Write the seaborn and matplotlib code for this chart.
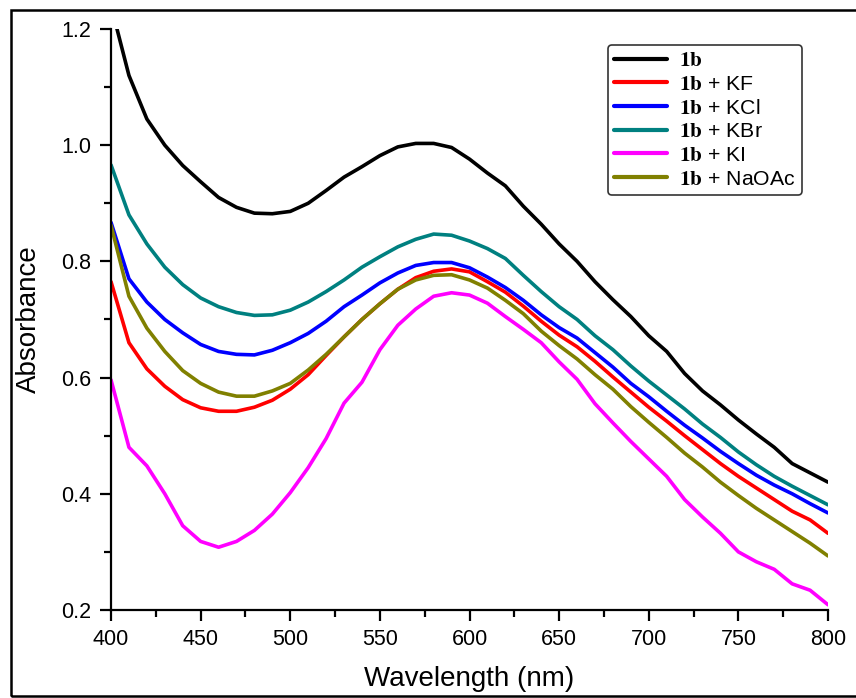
import numpy as np
import pandas as pd
import matplotlib
matplotlib.use("Agg")
import matplotlib.pyplot as plt
import matplotlib.patches as patches
from matplotlib.ticker import MultipleLocator
import seaborn as sns

# Wavelength grid (nm) and absorbance values
wavelength = list(range(400, 801, 10))

abs_1b = [1.24, 1.12, 1.045, 1.00, 0.965, 0.937, 0.91, 0.893, 0.883, 0.882,
          0.886, 0.900, 0.922, 0.945, 0.963, 0.982, 0.997, 1.003, 1.003, 0.996,
          0.976, 0.952, 0.93, 0.895, 0.864, 0.83, 0.800, 0.765, 0.734, 0.705,
          0.672, 0.645, 0.607, 0.577, 0.553, 0.527, 0.503, 0.480, 0.452, 0.436,
          0.420]
abs_kf = [0.765, 0.66, 0.615, 0.585, 0.562, 0.548, 0.542, 0.542, 0.549, 0.561,
          0.58, 0.605, 0.638, 0.67, 0.70, 0.727, 0.752, 0.772, 0.783, 0.787,
          0.782, 0.765, 0.747, 0.723, 0.697, 0.673, 0.653, 0.628, 0.601, 0.575,
          0.549, 0.525, 0.50, 0.476, 0.452, 0.43, 0.41, 0.39, 0.37, 0.355,
          0.332]
abs_kcl = [0.867, 0.77, 0.73, 0.70, 0.677, 0.657, 0.645, 0.64, 0.639, 0.647,
           0.66, 0.676, 0.697, 0.722, 0.742, 0.763, 0.78, 0.793, 0.798, 0.798,
           0.789, 0.773, 0.755, 0.733, 0.708, 0.686, 0.668, 0.643, 0.618, 0.59,
           0.567, 0.542, 0.518, 0.496, 0.473, 0.452, 0.432, 0.415, 0.40, 0.383,
           0.367]
abs_kbr = [0.966, 0.88, 0.83, 0.79, 0.76, 0.737, 0.722, 0.712, 0.707, 0.708,
           0.716, 0.73, 0.748, 0.768, 0.79, 0.808, 0.825, 0.838, 0.847, 0.845,
           0.835, 0.822, 0.805, 0.776, 0.748, 0.722, 0.70, 0.672, 0.648, 0.62,
           0.594, 0.57, 0.546, 0.52, 0.497, 0.472, 0.45, 0.43, 0.413, 0.397,
           0.381]
abs_ki = [0.596, 0.48, 0.448, 0.40, 0.345, 0.318, 0.308, 0.318, 0.337, 0.365,
          0.402, 0.445, 0.495, 0.556, 0.592, 0.648, 0.69, 0.718, 0.74, 0.746,
          0.742, 0.728, 0.705, 0.683, 0.66, 0.627, 0.597, 0.555, 0.522, 0.49,
          0.46, 0.43, 0.39, 0.36, 0.332, 0.30, 0.283, 0.27, 0.245, 0.234,
          0.209]
abs_naoac = [0.862, 0.74, 0.685, 0.645, 0.612, 0.59, 0.575, 0.568, 0.568, 0.577,
             0.59, 0.613, 0.64, 0.67, 0.70, 0.727, 0.752, 0.768, 0.776, 0.777,
             0.768, 0.754, 0.733, 0.71, 0.68, 0.655, 0.632, 0.605, 0.58, 0.55,
             0.523, 0.497, 0.47, 0.446, 0.42, 0.397, 0.375, 0.355, 0.335, 0.315,
             0.293]

labels = [r"$\mathbf{1b}$", r"$\mathbf{1b}$ + KF", r"$\mathbf{1b}$ + KCl",
          r"$\mathbf{1b}$ + KBr", r"$\mathbf{1b}$ + KI", r"$\mathbf{1b}$ + NaOAc"]
colors = ["#000000", "#FF0000", "#0000FF", "#008080", "#FF00FF", "#808000"]
series = [abs_1b, abs_kf, abs_kcl, abs_kbr, abs_ki, abs_naoac]

# Long table for seaborn
df = pd.concat([pd.DataFrame({"Wavelength": wavelength, "Absorbance": s, "Sample": lab})
                for s, lab in zip(series, labels)], ignore_index=True)

sns.set_style("ticks")
plt.rcParams["font.family"] = ["Liberation Sans", "DejaVu Sans"]
plt.rcParams["mathtext.fontset"] = "stix"
for key in ["text.color", "axes.labelcolor", "xtick.color", "ytick.color"]:
    plt.rcParams[key] = "black"

fig = plt.figure(figsize=(8.56, 6.98), dpi=100)
ax = fig.add_axes([0.1297, 0.1261, 0.8376, 0.8324])

sns.lineplot(data=df, x="Wavelength", y="Absorbance", hue="Sample",
             hue_order=labels, palette=colors, linewidth=2.6, ax=ax)

ax.set_xlim(400, 800)
ax.set_ylim(0.2, 1.2)
ax.xaxis.set_major_locator(MultipleLocator(50))
ax.xaxis.set_minor_locator(MultipleLocator(25))
ax.yaxis.set_major_locator(MultipleLocator(0.2))
ax.yaxis.set_minor_locator(MultipleLocator(0.1))
ax.yaxis.set_major_formatter(matplotlib.ticker.FormatStrFormatter("%.1f"))
ax.tick_params(which="major", direction="out", length=8, width=1.6, labelsize=15.5, pad=6)
ax.tick_params(which="minor", direction="out", length=5, width=1.6)

for side in ["top", "right"]:
    ax.spines[side].set_visible(False)
for side in ["left", "bottom"]:
    ax.spines[side].set_linewidth(1.6)
    ax.spines[side].set_color("black")

ax.set_xlabel("Wavelength (nm)", fontsize=20, labelpad=11)
ax.set_ylabel("Absorbance", fontsize=20, labelpad=14)

leg = ax.legend(loc="upper right", bbox_to_anchor=(0.970, 0.980), fontsize=15.3,
                frameon=True, fancybox=True, handlelength=2.45, handletextpad=0.6,
                labelspacing=0.22, borderpad=0.3, borderaxespad=0.2)
leg.get_frame().set_edgecolor("black")
leg.get_frame().set_linewidth(1.2)
for line in leg.get_lines():
    line.set_linewidth(3)

# outer frame around the figure
fig.patches.append(patches.Rectangle((11 / 856, 2 / 698), 1.0, 686 / 698,
                                     transform=fig.transFigure, fill=False,
                                     edgecolor="black", linewidth=1.8))

fig.savefig("out.png", dpi=100)
